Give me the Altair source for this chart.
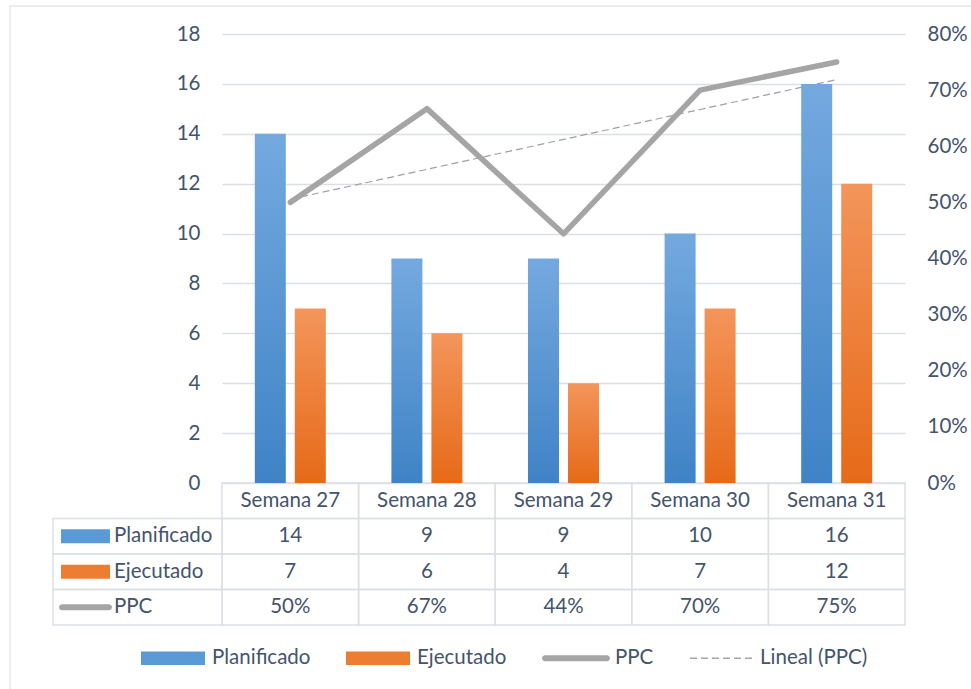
import altair as alt
import pandas as pd
import numpy as np

# ---------------- data ----------------
weeks = ["Semana 27", "Semana 28", "Semana 29", "Semana 30", "Semana 31"]
planificado = [14, 9, 9, 10, 16]
ejecutado = [7, 6, 4, 7, 12]
ppc = [0.50, 0.667, 0.444, 0.70, 0.75]
row_names = ["Planificado", "Ejecutado", "PPC"]
legend_names = ["Planificado", "Ejecutado", "PPC", "Lineal (PPC)"]
left_ticks = [0, 2, 4, 6, 8, 10, 12, 14, 16, 18]
right_ticks = [0.0, 0.1, 0.2, 0.3, 0.4, 0.5, 0.6, 0.7, 0.8]

# ---------------- style ----------------
W, H = 683, 449
TABLE_RANGE = [449, 591]
LEFT_COL = [-169, 0]
FONT = "Lato"
TXT = "#44546A"
GRID = "#DCE0E5"
BLUE_TOP, BLUE_BOT = "#74A9DF", "#3F83C6"
ORA_TOP, ORA_BOT = "#F3955B", "#E66A18"
BLUE_MID, ORA_MID = "#5B9BD5", "#ED7D31"
GRAY = "#A5A5A5"

ppc_labels = [f"{round(v * 100)}%" for v in ppc]
df = pd.DataFrame({"week": weeks, "plan": planificado, "ejec": ejecutado, "ppc": ppc})
idx = np.arange(1, len(weeks) + 1)
slope, intercept = np.polyfit(idx, np.array(ppc), 1)
df["trend"] = intercept + slope * idx

recs = []
for i, w in enumerate(weeks):
    recs.append({"week": w, "row": "header", "text": w})
    recs.append({"week": w, "row": "Planificado", "text": str(planificado[i])})
    recs.append({"week": w, "row": "Ejecutado", "text": str(ejecutado[i])})
    recs.append({"week": w, "row": "PPC", "text": ppc_labels[i]})
tdf = pd.DataFrame(recs)
ldf = pd.DataFrame({"col": ["lab"] * len(row_names), "row": row_names})
rows_all = ["header"] + row_names


def grad(top, bot):
    return alt.Gradient(
        gradient="linear",
        stops=[alt.GradientStop(color=top, offset=0), alt.GradientStop(color=bot, offset=1)],
        x1=0, x2=0, y1=0, y2=1,
    )


def rounded_line(hl, ht):
    a = hl - ht
    return (f"M{-a:.4f},{-ht:.4f}H{a:.4f}A{ht:.4f},{ht:.4f} 0 0 1 {a:.4f},{ht:.4f}"
            f"H{-a:.4f}A{ht:.4f},{ht:.4f} 0 0 1 {-a:.4f},{-ht:.4f}Z")


def dashed_line(start, dash, gap, n, ht):
    parts = []
    x = start
    for _ in range(n):
        parts.append(f"M{x:.4f},{-ht:.4f}H{x + dash:.4f}V{ht:.4f}H{x:.4f}Z")
        x += dash + gap
    return "".join(parts)


# symbol paths (unit box, scaled by sqrt(size))
rect_t = "M-1,-0.29H1V0.29H-1Z"
line_t = rounded_line(1.08, 0.125)
rect_l = "M-1,-0.21H1V0.21H-1Z"
line_l = rounded_line(1.06, 0.094)
dash_l = dashed_line(-0.969, 0.219, 0.125, 6, 0.02)

xband = alt.Scale(type="band", domain=weeks, paddingInner=0, paddingOuter=0)
xpoint = alt.Scale(type="point", domain=weeks, padding=0.5)
ytab_band = alt.Scale(type="band", domain=rows_all, range=TABLE_RANGE, paddingInner=0, paddingOuter=0)
ytab_point = alt.Scale(type="point", domain=rows_all, range=TABLE_RANGE, padding=0.5)
xleft = alt.Scale(type="band", domain=["lab"], range=LEFT_COL, paddingInner=0, paddingOuter=0)

# ---------------- frame ----------------
frame = alt.Chart(pd.DataFrame({"a": [0]})).mark_rect(
    fillOpacity=0, stroke="#E3E6EA", strokeWidth=1.5
).encode(x=alt.value(-212), x2=alt.value(780), y=alt.value(-28), y2=alt.value(700))

# ---------------- table ----------------
cells = alt.Chart(tdf).mark_rect(fillOpacity=0, stroke=GRID, strokeWidth=1.5).encode(
    x=alt.X("week:N", scale=xband, axis=None),
    y=alt.Y("row:N", scale=ytab_band, axis=None),
)
cell_text = alt.Chart(tdf).mark_text(font=FONT, fontSize=20.5, color=TXT, baseline="middle").encode(
    x=alt.X("week:N", scale=xpoint, axis=None),
    y=alt.Y("row:N", scale=ytab_point, axis=None),
    text="text:N",
)
left_cells = alt.Chart(ldf).mark_rect(fillOpacity=0, stroke=GRID, strokeWidth=1.5).encode(
    x=alt.X("col:N", scale=xleft, axis=None),
    y=alt.Y("row:N", scale=ytab_band, axis=None),
)
left_text = alt.Chart(ldf).mark_text(font=FONT, fontSize=20.5, color=TXT, align="left", dx=61, baseline="middle").encode(
    x=alt.X("col:N", scale=xleft, axis=None, bandPosition=0),
    y=alt.Y("row:N", scale=ytab_point, axis=None),
    text="row:N",
)
swatches = alt.Chart(ldf).mark_point(filled=True, size=2401, xOffset=32.5, opacity=1, strokeWidth=0).encode(
    x=alt.X("col:N", scale=xleft, axis=None, bandPosition=0),
    y=alt.Y("row:N", scale=ytab_point, axis=None),
    color=alt.Color("row:N", scale=alt.Scale(domain=row_names, range=[BLUE_MID, ORA_MID, GRAY]), legend=None),
    shape=alt.Shape("row:N", scale=alt.Scale(domain=row_names, range=[rect_t, rect_t, line_t]), legend=None),
)

# ---------------- bars & lines ----------------
bars_plan = alt.Chart(df).mark_bar(width=31, xOffset=-20, color=grad(BLUE_TOP, BLUE_BOT)).encode(
    x=alt.X("week:N", scale=xband, axis=None),
    y=alt.Y("plan:Q", scale=alt.Scale(domain=[0, 18]),
            axis=alt.Axis(orient="left", values=left_ticks, grid=True, gridColor=GRID, gridWidth=1.5,
                          domain=False, ticks=False, labelPadding=22, title=None)),
)
bars_ejec = alt.Chart(df).mark_bar(width=31, xOffset=20, color=grad(ORA_TOP, ORA_BOT)).encode(
    x=alt.X("week:N", scale=xband, axis=None),
    y=alt.Y("ejec:Q", scale=alt.Scale(domain=[0, 18]), axis=None),
)
trend = alt.Chart(df).mark_line(color="#A0A0A0", strokeWidth=1.2, strokeDash=[7, 4]).encode(
    x=alt.X("week:N", scale=xpoint, axis=None),
    y=alt.Y("trend:Q", scale=alt.Scale(domain=[0, 0.8]), axis=None),
)
line = alt.Chart(df).mark_line(color=GRAY, strokeWidth=5.5, strokeCap="round", strokeJoin="round").encode(
    x=alt.X("week:N", scale=xpoint, axis=None),
    y=alt.Y("ppc:Q", scale=alt.Scale(domain=[0, 0.8]),
            axis=alt.Axis(orient="right", values=right_ticks, format=".0%", grid=False,
                          domain=False, ticks=False, labelPadding=22, title=None)),
)

# ---------------- bottom legend ----------------
leg_def = alt.Legend(
    title=None, orient="none", direction="horizontal", legendX=-81, legendY=592,
    symbolSize=4096, symbolStrokeWidth=0, symbolOpacity=1, labelFont=FONT, labelFontSize=20.5,
    labelColor=TXT, labelOffset=7, columnPadding=35, padding=0,
)
leg = alt.Chart(pd.DataFrame({"series": legend_names})).transform_filter("false").mark_point(
    filled=True, strokeWidth=0, opacity=1
).encode(
    color=alt.Color("series:N", scale=alt.Scale(domain=legend_names, range=[BLUE_MID, ORA_MID, GRAY, GRAY]), legend=leg_def),
    shape=alt.Shape("series:N", scale=alt.Scale(domain=legend_names, range=[rect_l, rect_l, line_l, dash_l]), legend=leg_def),
)

chart = alt.layer(
    frame, cells, left_cells, cell_text, left_text, swatches, bars_plan, bars_ejec, trend, line, leg
).resolve_scale(
    x="independent", y="independent", color="independent", shape="independent"
).properties(
    width=W, height=H,
    padding={"left": 222, "top": 34, "right": 66, "bottom": 206},
    autosize=alt.AutoSizeParams(type="none"),
).configure(
    font=FONT, background="white"
).configure_view(
    strokeWidth=0
).configure_axis(
    labelFont=FONT, labelFontSize=20.5, labelColor=TXT
)

chart.save("out.html", embed_options={"renderer": "svg", "actions": False})
